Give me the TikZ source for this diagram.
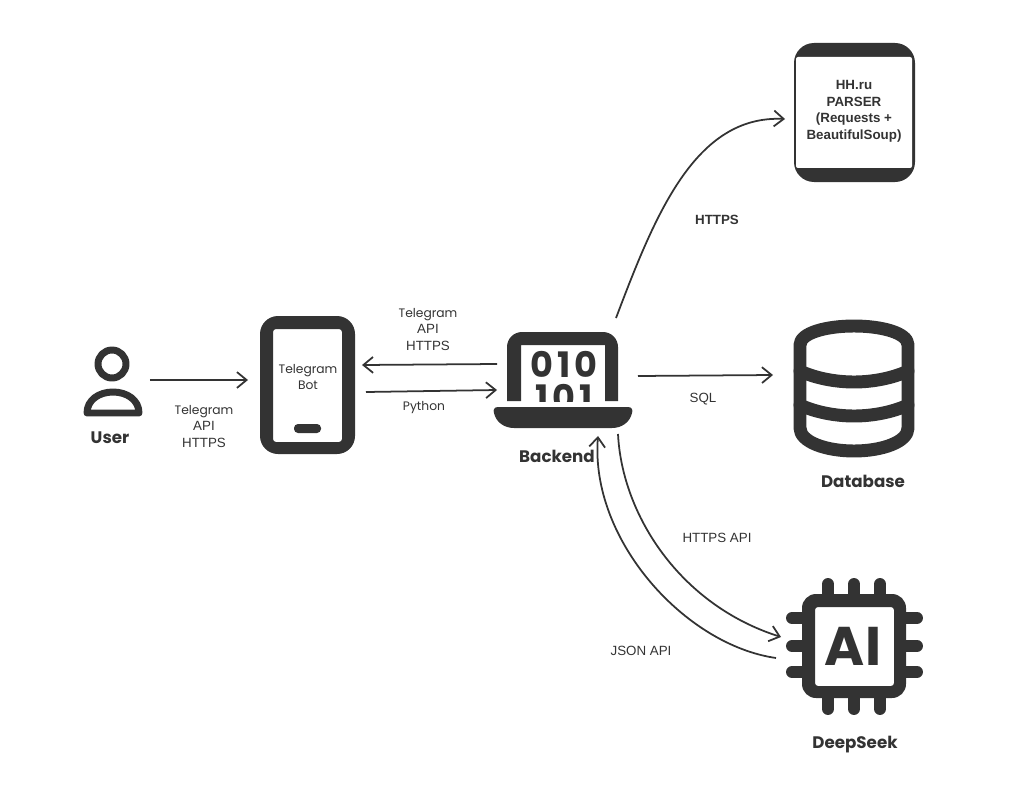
\documentclass[tikz,border=0pt]{standalone}
\usepackage{fontspec}
\setmainfont{Poppins}
\newfontfamily\capsfont{Liberation Sans}
\newfontfamily\digitfont[LetterSpace = 12]{Poppins}
\usetikzlibrary{arrows.meta}
\definecolor{mdark}{rgb}{0.2, 0.2, 0.2}
\newcommand{\caps}[1]{{\capsfont\fontsize{7.6}{9.4}\selectfont #1}}
\tikzset{port/.style = {inner sep = 0, outer sep = 0}}
\tikzset{lbl/.style = {inner sep = 0, align = center, text = mdark, font = \fontsize{7}{9.4}\selectfont}}
\tikzset{boldlbl/.style = {lbl, font = \capsfont\fontsize{7.6}{9.4}\selectfont\bfseries}}
\tikzset{title/.style = {inner sep = 0, text = mdark, font = \fontsize{9.5}{11}\selectfont\bfseries}}
\tikzset{digits/.style = {inner sep = 0, text = mdark, font = \digitfont\fontsize{20}{20}\selectfont\bfseries}}
\tikzset{link/.style = {line width = 1pt, mdark, -{Straight Barb[length = 5.5pt, width = 9pt]}}}
\tikzset{solid/.style = {line width = 7 * 0.567pt, mdark, line cap = round, line join = round}}
\tikzset{band/.style = {solid, line width = 13 * 0.567pt}}
\tikzset{pin/.style = {solid, line width = 12 * 0.567pt}}

\begin{document}
\begin{tikzpicture}[x = 0.02cm, y = -0.02cm]

       \useasboundingbox (0, 0) rectangle (1026, 804);

       \node [port, minimum width = 1.56cm, minimum height = 2cm] (user) at (111, 380) {};
       \node [port, minimum width = 2.28cm, minimum height = 2.8cm] (bot) at (305, 380) {};
       \node [port, minimum width = 2.82cm, minimum height = 2.32cm] (backend) at (567.5, 376) {};
       \node [port, minimum width = 2.78cm, minimum height = 2.8cm] (parser) at (854.5, 112) {};
       \node [port, minimum width = 3.24cm, minimum height = 2.8cm] (database) at (854, 376) {};
       \node [port, minimum width = 2.94cm, minimum height = 2.8cm] (deepseek) at (854.5, 646) {};

       \draw [solid] (112, 364) circle (14);
       \draw [solid] (87, 413) -- (139, 413) .. controls (139, 400) and (127, 392) .. (113, 392) .. controls (99, 392) and (87, 400) .. (87, 413) -- cycle;
       \node [title] (userlabel) at (110, 438) {User};

       \fill [mdark, even odd rule, rounded corners = 0.36cm] (260, 316) rectangle (355, 454) [rounded corners = 0.06cm] (273, 329) rectangle (342, 442);
       \fill [mdark, rounded corners = 0.08cm] (294, 424) rectangle (321, 433);
       \node [lbl] (botlabel) at (308, 377) {Telegram\\Bot};

       \fill [mdark, rounded corners = 0.3cm] (507, 401) -- (507, 332) -- (618, 332) [sharp corners] -- (618, 401) -- (605, 401) -- (605, 345) -- (521, 345) -- (521, 401) -- cycle;
       \fill [mdark] (498, 407) -- (628, 407) .. controls (632, 407) and (633, 410) .. (632, 413) .. controls (630, 422) and (622, 428) .. (612, 428) -- (514, 428) .. controls (504, 428) and (496, 422) .. (494, 413) .. controls (493, 410) and (494, 407) .. (498, 407) -- cycle;
       \node [digits] (upper) at (564, 364) {010};
       \begin{scope}
         \clip (521, 380) rectangle (605, 401);
         \node [digits] (lower) at (564, 397) {101};
       \end{scope}
       \node [title] (backendlabel) at (557, 456) {Backend};

       \fill [mdark, rounded corners = 0.4cm] (794, 43) rectangle (915, 182);
       \fill [white, rounded corners = 0.04cm] (796, 57) rectangle (912, 168);
       \node [boldlbl] (parserlabel) at (854, 111.5) {HH.ru\\PARSER\\(Requests +\\BeautifulSoup)};

       \draw [band] (800, 345) .. controls (800, 333) and (826, 326) .. (854, 326) .. controls (882, 326) and (908, 333) .. (908, 345) -- (908, 428) .. controls (908, 442) and (882, 451) .. (854, 451) .. controls (826, 451) and (800, 442) .. (800, 428) -- cycle;
       \draw [band] (800, 371) .. controls (815, 378) and (835, 382) .. (854, 382) .. controls (873, 382) and (893, 378) .. (908, 371);
       \draw [band] (800, 405) .. controls (815, 412) and (835, 416) .. (854, 416) .. controls (873, 416) and (893, 412) .. (908, 405);
       \node [title] (databaselabel) at (863, 481) {Database};

       \foreach \pos in {828, 854, 880} {
         \draw [pin] (\pos, 584) -- (\pos, 600);
         \draw [pin] (\pos, 692) -- (\pos, 709);
       }
       \foreach \pos in {618, 646, 672} {
         \draw [pin] (792, \pos) -- (808, \pos);
         \draw [pin] (900, \pos) -- (917, \pos);
       }
       \fill [mdark, even odd rule, rounded corners = 0.28cm] (802, 594) rectangle (906, 698) [rounded corners = 0.06cm] (815, 607) rectangle (894, 686);
       \node [inner sep = 0, text = mdark, font = \fontsize{31}{31}\selectfont\bfseries] (chip) at (853, 646) {AI};
       \node [title] (deepseeklabel) at (855, 745) {DeepSeek};

       \draw [link] (user.east) -- (bot.west);
       \draw [link] ([shift = {(0, -12)}] backend.west) -- ([shift = {(0, -15)}] bot.east);
       \draw [link] ([shift = {(4, 12)}] bot.east) -- ([shift = {(0, 14)}] backend.west);
       \draw [link] ([shift = {(48.5, 0)}] backend.north) .. controls (655, 215) and (695, 115) .. ([shift = {(0, 7)}] parser.west);
       \draw [link] (backend.east) -- ([shift = {(0, -1)}] database.west);
       \draw [link] ([shift = {(50.5, 0)}] backend.south) .. controls (622, 515) and (680, 605) .. ([shift = {(0, -9)}] deepseek.west);
       \draw [link] ([shift = {(-5, 12)}] deepseek.west) .. controls (685, 645) and (590, 540) .. ([shift = {(30.5, 2)}] backend.south);

       \node [lbl] (userlink) at (204, 426.5) {Telegram\\\caps{API}\\\caps{HTTPS}};
       \node [lbl] (toplink) at (428, 329.5) {Telegram\\\caps{API}\\\caps{HTTPS}};
       \node [lbl] (pythonlink) at (424, 407.5) {Python};
       \node [boldlbl] (parserlink) at (717, 219.5) {HTTPS};
       \node [lbl] (sqllink) at (703, 399) {\caps{SQL}};
       \node [lbl] (apilink) at (717, 538) {\caps{HTTPS API}};
       \node [lbl] (jsonlink) at (641, 650.5) {\caps{JSON API}};
    \end{tikzpicture}
\end{document}
